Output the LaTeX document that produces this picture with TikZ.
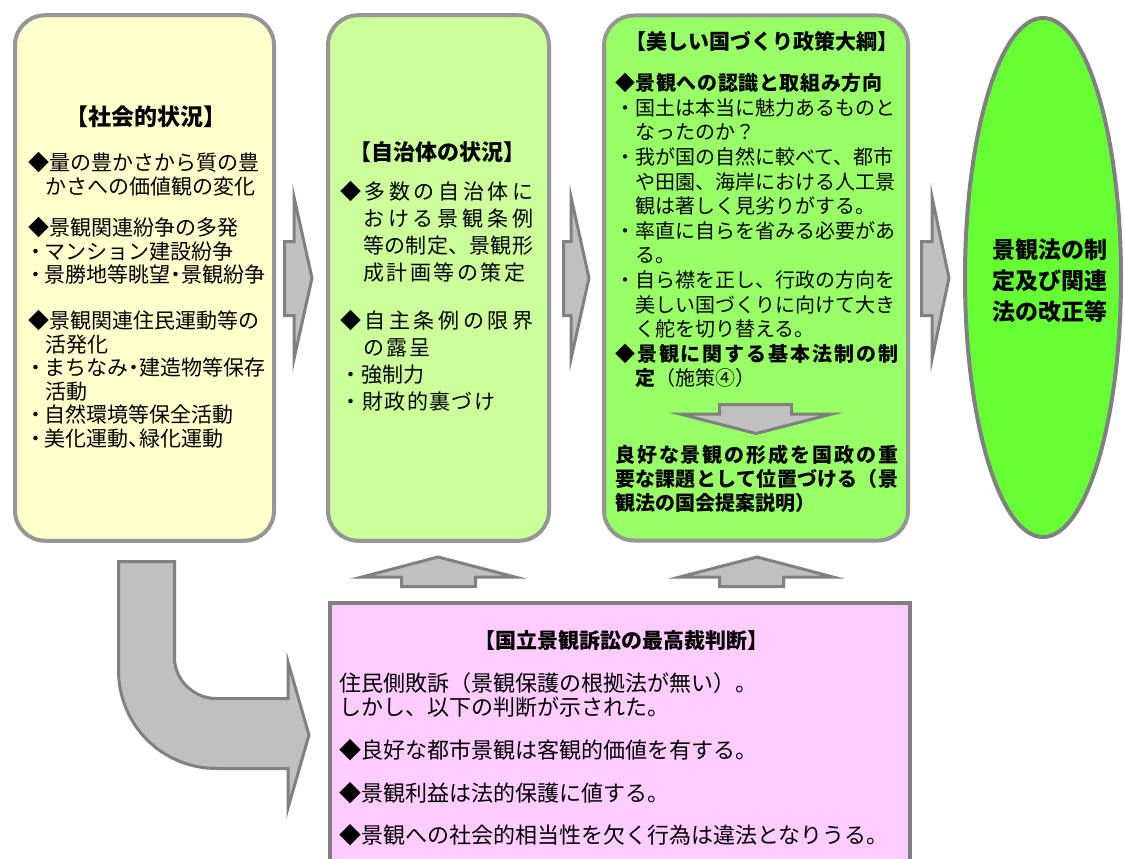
\documentclass[tikz,border=0pt]{standalone}
\usepackage{fontspec}
\usetikzlibrary{shapes.geometric}
\setmainfont{Noto Sans CJK JP}
\newfontfamily\jpp{Noto Sans CJK JP}[RawFeature=+palt]
\definecolor{boxone}{HTML}{FFFFCC}
\definecolor{boxtwo}{HTML}{CCFF99}
\definecolor{boxthree}{HTML}{99FF66}
\definecolor{ellfill}{HTML}{66FF33}
\definecolor{pinkfill}{HTML}{FFCCFF}
\definecolor{bordergray}{HTML}{969696}
\definecolor{arrowgray}{HTML}{808080}
\definecolor{arrowfill}{HTML}{C0C0C0}
\makeatletter
\def\jlspread#1#2{#1\ifx\relax#2\expandafter\@gobble\else\hfil\expandafter\jlspread\fi{#2}}
\makeatother
\newcommand\jl[2]{\makebox[#1pt][s]{\jlspread#2\relax}}
\newcommand\lead{\hspace*{3pt}{\jpp ・}\hspace{3pt}}
\newcommand\nd{{\jpp ・}}
\newcommand\nc{{\jpp 、}}
\tikzset{
  rbox/.style={draw=bordergray, line width=4pt, rounded corners=30pt, inner sep=0pt},
  blockarrow/.style={draw=arrowgray, fill=arrowfill, line width=3pt, line join=miter},
  ttl/.style={inner sep=0pt, anchor=base, font=\bfseries\fontsize{#1}{#1}\selectfont},
  bodytxt/.style={inner sep=0pt, anchor=base west, align=left}
}
\begin{document}
\begin{tikzpicture}[x=1pt,y=-1pt]
\useasboundingbox (0,0) rectangle (1125,859);
% boxes
\node[rbox, fill=boxone, minimum width=259pt, minimum height=525.5pt] (box1) at (144.5,278) {};
\node[rbox, fill=boxtwo, minimum width=221pt, minimum height=525.5pt] (box2) at (438.5,278) {};
\node[rbox, fill=boxthree, minimum width=304pt, minimum height=525pt] (box3) at (756,278) {};
\node[draw=arrowgray, line width=4pt, fill=ellfill, ellipse, inner sep=0pt, minimum width=156pt, minimum height=519pt] (ell) at (1043,277.5) {};
\node[draw=arrowgray, line width=4pt, fill=pinkfill, rectangle, inner sep=0pt, minimum width=580pt, minimum height=280pt] (pink) at (620,743) {};
% right block arrows
\draw[blockarrow] (284.5,241.5) -- (294,241.5) -- (294,197) -- (312,278) -- (294,359) -- (294,315.5) -- (284.5,315.5) -- cycle;
\draw[blockarrow] (563.5,241.5) -- (571,241.5) -- (571,197) -- (589,278) -- (571,359) -- (571,315.5) -- (563.5,315.5) -- cycle;
\draw[blockarrow] (921.5,241.5) -- (932,241.5) -- (932,197) -- (949,278) -- (932,359) -- (932,315.5) -- (921.5,315.5) -- cycle;
% up arrows
\draw[blockarrow] (401.5,586.5) -- (401.5,577) -- (362,577) -- (438,557) -- (515,577) -- (475.5,577) -- (475.5,586.5) -- cycle;
\draw[blockarrow] (719.5,586.5) -- (719.5,577) -- (680,577) -- (757,557) -- (833,577) -- (783.5,577) -- (783.5,586.5) -- cycle;
% down arrow in box 3
\draw[blockarrow] (719.5,404.5) -- (791.5,404.5) -- (791.5,414) -- (832,414) -- (756,433.5) -- (680,414) -- (719.5,414) -- cycle;
% bent arrow
\draw[blockarrow] (118.5,561.5) -- (174.5,561.5) -- (174.5,658) .. controls (174.5,680) and (194,698.5) .. (216,698.5) -- (288,698.5) -- (288,662) -- (309,735) -- (288,808) -- (288,768.5) -- (217,768.5) .. controls (162,768.5) and (118.5,725) .. (118.5,670) -- cycle;
% box 1 text (anchor = baseline of last line)
\node[ttl=23] (t1) at (146,125.7) {【社会的状況】};
\node[bodytxt, font=\fontsize{21}{23.5}\selectfont] (b1) at (28,446) {◆量の豊かさから質の豊\\
\hspace*{17pt}かさへの価値観の変化\\[18pt]
◆景観関連紛争の多発\\
\lead マンション建設紛争\\
\lead 景勝地等眺望\nd 景観紛争\\[22.5pt]
◆景観関連住民運動等の\\
\hspace*{17pt}活発化\\
\lead まちなみ\nd 建造物等保存\\
\hspace*{17pt}活動\\
\lead 自然環境等保全活動\\
\lead 美化運動\nc 緑化運動};
% box 2 text
\node[ttl=22] (t2) at (437,160.4) {【自治体の状況】};
\node[bodytxt, font=\fontsize{21}{27.2}\selectfont] (b2) at (340,409.6) {\jl{193}{◆多数の自治体に}\\
\hspace*{23pt}\jl{170}{おける景観条例}\\
\hspace*{23pt}\jl{170}{等の制定、景観形}\\
\hspace*{23pt}\jl{162}{成計画等の策定}\\[20.2pt]
\jl{193}{◆自主条例の限界}\\
\hspace*{23pt}\jl{67}{の露呈}\\
・強制力\\
\jl{155}{・財政的裏づけ}};
% box 3 text
\node[ttl=21] (t3) at (762,50) {【美しい国づくり政策大綱】};
\node[bodytxt, font=\fontsize{20}{24.6}\selectfont] (b3) at (615,385.8) {\textbf{\jl{267}{◆景観への認識と取組み方向}}\\
・国土は本当に魅力あるものと\\
\hspace*{20pt}なったのか？\\
・我が国の自然に較べて、都市\\
\hspace*{20pt}や田園、海岸における人工景\\
\hspace*{20pt}観は著しく見劣りがする。\\
・率直に自らを省みる必要があ\\
\hspace*{20pt}る。\\
・自ら襟を正し、行政の方向を\\
\hspace*{20pt}美しい国づくりに向けて大き\\
\hspace*{20pt}く舵を切り替える。\\
\textbf{\jl{283}{◆景観に関する基本法制の制}}\\
\hspace*{20pt}\textbf{定}（施策④）};
\node[bodytxt, font=\bfseries\fontsize{20}{24}\selectfont] (b3b) at (615,510.6) {\jl{283}{良好な景観の形成を国政の重}\\
\jl{283}{要な課題として位置づける（景}\\
観法の国会提案説明）};
% ellipse text
\node[inner sep=0pt, anchor=base, align=center, font=\bfseries\fontsize{23}{31}\selectfont] (et) at (1050,320.7) {景観法の制\\定及び関連\\法の改正等};
% pink text
\node[ttl=21] (t4) at (621,648) {【国立景観訴訟の最高裁判断】};
\node[bodytxt, font=\fontsize{22}{24}\selectfont] (b4) at (339,843.4) {住民側敗訴（景観保護の根拠法が無い）。\\
しかし、以下の判断が示された。\\[19pt]
◆良好な都市景観は客観的価値を有する。\\[19pt]
◆景観利益は法的保護に値する。\\[18pt]
◆景観への社会的相当性を欠く行為は違法となりうる。};
\end{tikzpicture}
\end{document}
